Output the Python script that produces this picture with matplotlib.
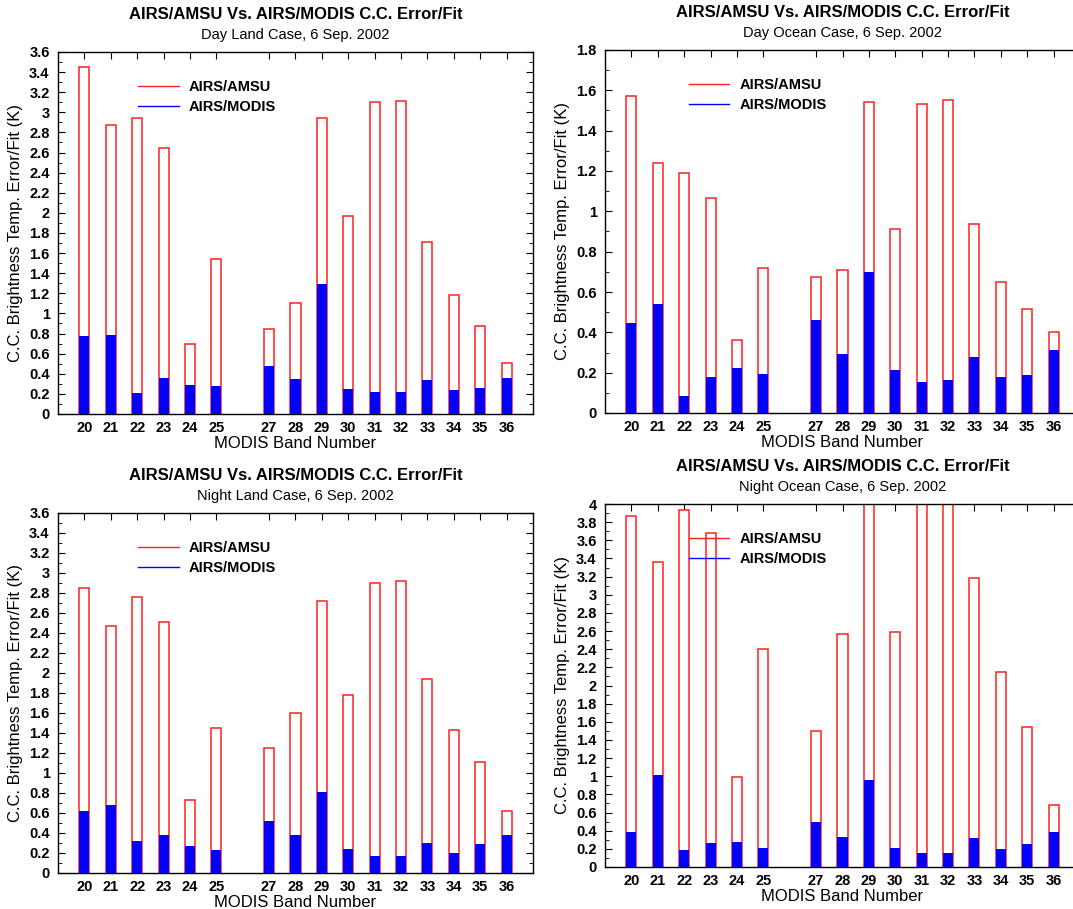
import numpy as np
import matplotlib
matplotlib.use('Agg')
import matplotlib.pyplot as plt
from matplotlib import rc
from matplotlib.lines import Line2D
from matplotlib.ticker import MultipleLocator, FuncFormatter

rc('font', **{'family': ['Liberation Sans', 'DejaVu Sans'], 'size': 10})
rc('xtick', **{'direction': 'in', 'major.size': 5, 'minor.size': 3, 'top': True, 'labelsize': 10.5})
rc('ytick', **{'direction': 'in', 'major.size': 5, 'minor.size': 3, 'right': True, 'labelsize': 10.5})
rc('axes', **{'linewidth': 1.0})

bands = [20, 21, 22, 23, 24, 25, 27, 28, 29, 30, 31, 32, 33, 34, 35, 36]

# AIRS/AMSU (red outline) and AIRS/MODIS (blue fill) error/fit, K
day_land_amsu = [3.45, 2.87, 2.94, 2.65, 0.70, 1.54, 0.85, 1.10, 2.94, 1.965, 3.10, 3.115, 1.71, 1.18, 0.88, 0.51]
day_land_modis = [0.78, 0.79, 0.205, 0.36, 0.285, 0.275, 0.48, 0.35, 1.29, 0.25, 0.22, 0.22, 0.335, 0.235, 0.26, 0.36]

day_ocean_amsu = [1.57, 1.24, 1.19, 1.067, 0.36, 0.717, 0.675, 0.71, 1.54, 0.91, 1.53, 1.55, 0.938, 0.652, 0.514, 0.40]
day_ocean_modis = [0.446, 0.54, 0.083, 0.18, 0.225, 0.195, 0.462, 0.292, 0.70, 0.213, 0.154, 0.163, 0.279, 0.18, 0.188, 0.31]

night_land_amsu = [2.855, 2.47, 2.757, 2.515, 0.73, 1.447, 1.248, 1.596, 2.72, 1.785, 2.90, 2.92, 1.944, 1.427, 1.108, 0.617]
night_land_modis = [0.62, 0.68, 0.325, 0.385, 0.272, 0.226, 0.52, 0.378, 0.806, 0.236, 0.166, 0.172, 0.30, 0.20, 0.289, 0.378]

# bands 29, 31, 32 run off the top of the plot
night_ocean_amsu = [3.868, 3.36, 3.93, 3.68, 0.99, 2.40, 1.50, 2.57, 4.5, 2.587, 4.6, 4.6, 3.19, 2.15, 1.538, 0.68]
night_ocean_modis = [0.385, 1.013, 0.19, 0.268, 0.279, 0.21, 0.495, 0.327, 0.96, 0.21, 0.158, 0.158, 0.316, 0.198, 0.25, 0.385]

title = 'AIRS/AMSU Vs. AIRS/MODIS C.C. Error/Fit'

W, H = 1073, 909
fig = plt.figure(figsize=(W / 100, H / 100), dpi=100)


def panel(l, r, t, b, subtitle, ymax, amsu, modis, legx):
    ax = fig.add_axes([l / W, 1 - b / H, (r - l) / W, (b - t) / H])
    ax.bar(bands, amsu, width=0.38, facecolor='white', edgecolor='#ff2020', lw=1.1, zorder=2)
    ax.bar(bands, modis, width=0.38, color='blue', lw=0, zorder=3)
    ax.set_xlim(19, 37)
    ax.set_ylim(0, ymax)
    ax.set_xticks(bands)
    ax.yaxis.set_major_locator(MultipleLocator(0.2))
    ax.yaxis.set_minor_locator(MultipleLocator(0.1))
    ax.yaxis.set_major_formatter(FuncFormatter(lambda v, p: '%g' % round(v, 2)))
    for lab in ax.get_xticklabels() + ax.get_yticklabels():
        lab.set_fontweight('bold')
    ax.tick_params(axis='x', pad=5)
    ax.tick_params(axis='y', pad=6)
    ax.set_xlabel('MODIS Band Number', fontsize=12, labelpad=1)
    ax.set_ylabel('C.C. Brightness Temp. Error/Fit (K)', fontsize=12, labelpad=4)
    ax.text(0.5, 1.0 + 33 / (b - t), title, transform=ax.transAxes, ha='center',
            va='baseline', fontsize=12, fontweight='bold')
    ax.text(0.5, 1.0 + 13 / (b - t), subtitle, transform=ax.transAxes, ha='center',
            va='baseline', fontsize=10.5)
    handles = [Line2D([], [], color='#ff2020', lw=1), Line2D([], [], color='blue', lw=1)]
    ax.legend(handles, ['AIRS/AMSU', 'AIRS/MODIS'], loc='upper left',
              bbox_to_anchor=(legx, 0.922), frameon=False, borderpad=0, borderaxespad=0,
              handlelength=2.8, handletextpad=0.7, labelspacing=0.4,
              prop={'weight': 'bold', 'size': 10.5})
    return ax


panel(58, 533, 52, 414, 'Day Land Case, 6 Sep. 2002', 3.6, day_land_amsu, day_land_modis, 0.168)
panel(605, 1080, 50, 413, 'Day Ocean Case, 6 Sep. 2002', 1.8, day_ocean_amsu, day_ocean_modis, 0.176)
panel(58, 533, 513, 873, 'Night Land Case, 6 Sep. 2002', 3.6, night_land_amsu, night_land_modis, 0.168)
panel(605, 1080, 504, 867, 'Night Ocean Case, 6 Sep. 2002', 4.0, night_ocean_amsu, night_ocean_modis, 0.176)

fig.savefig('out.png', dpi=100)
